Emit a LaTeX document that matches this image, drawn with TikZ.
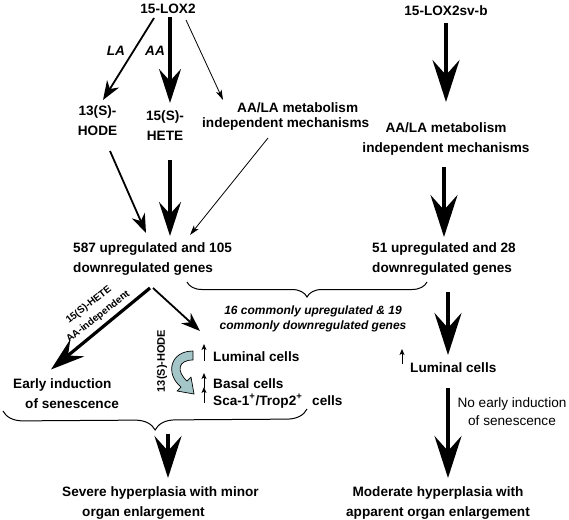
\documentclass[tikz,border=0pt]{standalone}
\usepackage{fontspec}
\setmainfont{Liberation Sans}
\usetikzlibrary{arrows.meta,decorations.pathreplacing}
\definecolor{tealfill}{RGB}{164,198,200}
\begin{document}
\begin{tikzpicture}[x=1pt,y=-1pt,
  lbl/.style={inner sep=0pt, font=\fontsize{13.6}{20}\selectfont\bfseries, align=center},
  big/.style={line width=3.2pt, -{Stealth[length=34pt,width=22pt,inset=12pt]}},
  huge/.style={line width=3.6pt, -{Stealth[length=42pt,width=27pt,inset=15pt]}},
  med/.style={line width=1.8pt, -{Stealth[length=19pt,width=14pt,inset=6pt]}},
  thn/.style={line width=0.8pt, -{Stealth[length=10pt,width=6pt,inset=2.5pt]}},
  tiny/.style={line width=0.9pt, -{Stealth[length=6pt,width=5pt,inset=1.5pt]}},
  bracestyle/.style={line width=1pt, decorate, decoration={brace, mirror, amplitude=#1, aspect=0.5}}
]
\useasboundingbox (0,0) rectangle (569,519);

% nodes
\node[lbl] (lox2) at (168,9) {15-LOX2};
\node[lbl] (loxsv) at (446,11) {15-LOX2sv-b};
\node[lbl] (hode) at (97.5,121) {13(S)-\\HODE};
\node[lbl] (hete) at (165,126) {15(S)-\\HETE};
\node[lbl, font=\fontsize{13.6}{15}\selectfont\bfseries, align=left, anchor=west] (indL) at (202,116.5) {\hspace*{35pt}AA/LA metabolism\\independent mechanisms};
\node[lbl] (indR) at (446,139) {AA/LA metabolism\\independent mechanisms};
\node[lbl, align=left, anchor=west] (genL) at (73,259) {587 upregulated and 105\\downregulated genes};
\node[lbl, align=left, anchor=west] (genR) at (372,259) {51 upregulated and 28\\downregulated genes};
\node[lbl, font=\fontsize{12}{15}\selectfont\bfseries\itshape] (common) at (313,318.5) {16 commonly upregulated \& 19\\commonly downregulated genes};
\node[lbl, align=left, anchor=west] (early) at (13,393.5) {Early induction\\\hspace*{12pt}of senescence};
\node[lbl, font=\fontsize{11}{13}\selectfont\bfseries, rotate=90] (hodeR) at (162,361) {13(S)-HODE};
\node[lbl, anchor=west] (lum) at (213,357) {Luminal cells};
\node[lbl, anchor=west] (basal) at (213,384) {Basal cells};
\node[lbl, anchor=west] (sca) at (213,401) {Sca-1\textsuperscript{+}/Trop2\textsuperscript{+}\hspace{6pt} cells};
\node[lbl, anchor=west] (lumR) at (410,368) {Luminal cells};
\node[lbl, font=\fontsize{13.6}{18}\selectfont] (noearly) at (512,412) {No early induction\\of senescence};
\node[lbl, align=left, anchor=west] (severe) at (62,503.5) {Severe hyperplasia with minor\\\hspace*{20pt}organ enlargement};
\node[lbl] (moderate) at (438,503) {Moderate hyperplasia with\\apparent organ enlargement};

% arrow labels
\node[font=\fontsize{13.6}{15}\selectfont\bfseries\itshape, inner sep=0pt] (laL) at (116,51) {LA};
\node[font=\fontsize{13.6}{15}\selectfont\bfseries\itshape, inner sep=0pt] (aaL) at (155,51) {AA};
\node[font=\fontsize{10}{15}\selectfont\bfseries, rotate=38, inner sep=0pt, align=center] (hl) at (93.5,311) {15(S)-HETE\\AA-independent};

% arrows top left
\draw[med] ([shift={(-14,9)}]lox2.center) -- ([shift={(5.5,-21)}]hode.center);
\draw[big] ([shift={(2,8)}]lox2.center) -- ([shift={(5,-23)}]hete.center);
\draw[thn] ([shift={(18,11)}]lox2.center) -- ([shift={(21,-16.5)}]indL.west);
\draw[huge] ([shift={(0,12)}]loxsv.center) -- ([shift={(0,-37)}]indR.center);

\draw[med] ([shift={(12.5,30)}]hode.center) -- ([shift={(73,-26)}]genL.west);
\draw[big] ([shift={(5,34)}]hete.center) -- ([shift={(97,-23)}]genL.west);
\draw[thn] ([shift={(66,21.5)}]indL.west) -- ([shift={(117,-24)}]genL.west);
\draw[huge] ([shift={(-2,28)}]indR.center) -- ([shift={(72,-22)}]genR.west);

% below genes
\draw[big] ([shift={(77,29)}]genL.west) -- ([shift={(38,-24)}]early.west);
\draw[med] ([shift={(80,29)}]genL.west) -- ([shift={(-13,-26)}]lum.west);

\draw[tiny] ([shift={(-9,4)}]lum.west) -- ([shift={(-9,-13)}]lum.west);
\draw[tiny] ([shift={(-9,4)}]basal.west) -- ([shift={(-9,-11)}]basal.west);
\draw[tiny] ([shift={(-9,2)}]sca.west) -- ([shift={(-9,-14)}]sca.west);
\draw[tiny] ([shift={(-8,-4)}]lumR.west) -- ([shift={(-8,-19)}]lumR.west);

\draw[huge] ([shift={(76,33)}]genR.west) -- ([shift={(38,-13)}]lumR.west);
\draw[huge] ([shift={(38,20)}]lumR.west) -- ([shift={(10,-25)}]moderate.center);

% braces
\draw[bracestyle=15pt] ([shift={(114,23)}]genL.west) -- ([shift={(55,23)}]genR.west);
\draw[bracestyle=20pt] ([shift={(-10,17.5)}]early.west) -- ([shift={(94,8)}]sca.west);
\coordinate (btip) at (168,434);
\draw[huge] (btip) -- ([shift={(106,-25.5)}]severe.west);

% curved arrow
\filldraw[fill=tealfill, draw=black, line width=0.7pt, line join=round]
  (193,351) .. controls (170,351) and (165,374) .. (181,387) -- (177,391) -- (194,394) -- (191,377) -- (187,381)
  .. controls (176,371) and (178,360) .. (193,360) -- cycle;
\end{tikzpicture}
\end{document}
